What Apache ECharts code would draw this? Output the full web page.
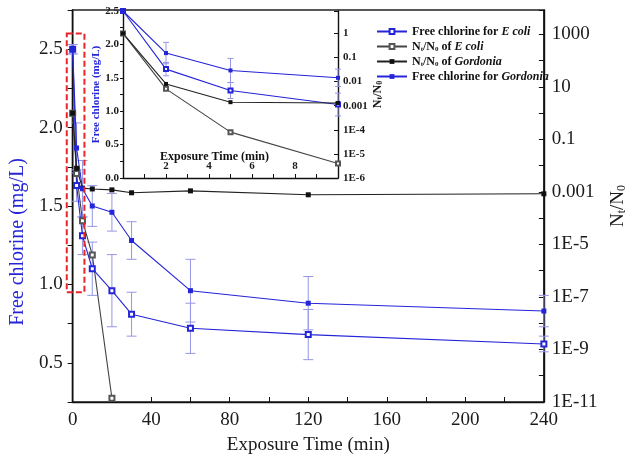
<!DOCTYPE html>
<html>
<head>
<meta charset="utf-8">
<script src="https://cdn.jsdelivr.net/npm/echarts@6/dist/echarts.min.js"></script>
<style>
  html, body { margin: 0; padding: 0; background: #fff; }
  #chart { width: 636px; height: 463px; }
</style>
</head>
<body>
<div id="chart"></div>
<script>
  // exposure time (min)
  const times = [0, 2, 5, 10, 20, 30, 60, 120, 240];
  // free chlorine (mg/L) with standard deviation
  const clGordonia = [2.50, 1.87, 1.61, 1.50, 1.46, 1.28, 0.96, 0.88, 0.83];
  const clGordoniaErr = [0.03, 0.16, 0.18, 0.13, 0.12, 0.12, 0.20, 0.17, 0.10];
  const clEcoli = [2.50, 1.63, 1.31, 1.10, 0.96, 0.81, 0.72, 0.68, 0.62];
  const clEcoliErr = [0.03, 0.10, 0.12, 0.17, 0.23, 0.14, 0.16, 0.16, 0.05];
  // Nt/N0
  const ratioGordonia = [1, 0.008, 0.0014, 0.0013, 0.0012, 0.00093, 0.0011, 0.00078, 0.00085];
  const ecoliTimes = [0, 2, 5, 10, 20];
  const ratioEcoli = [1, 0.005, 0.00008, 0.000004, 1.4e-11];
  // right axis tick labels (by decade)
  const mainRatioLabels = {3: '1000', 1: '10', '-1': '0.1', '-3': '0.001', '-5': '1E-5', '-7': '1E-7', '-9': '1E-9', '-11': '1E-11'};
  const insetRatioLabels = {0: '1', '-1': '0.1', '-2': '0.01', '-3': '0.001', '-4': '1E-4', '-5': '1E-5', '-6': '1E-6'};
  const insetMaxTime = 10;
  // dashed box marking the zoomed region (time, mg/L)
  const boxTime = [-3, 6];
  const boxChlorine = [0.95, 2.6];

  const BLUE = '#2424d8';
  const ERR = '#9696e6';
  const SERIF = 'Liberation Serif';
  const names = ['Free chlorine for E coli', 'Nt/N0 of E coli', 'Nt/N0 of Gordonia', 'Free chlorine for Gordonia'];

  const pairs = (xs, ys, f) => xs.map((t, i) => [t, f ? f(ys[i]) : ys[i]]);
  const clip = (arr) => arr.filter(p => p[0] <= insetMaxTime);
  const errData = (ys, es) => times.map((t, i) => [t, ys[i], es[i]]);

  function errBars(capHalf) {
    return function (params, api) {
      const t = api.value(0), v = api.value(1), e = api.value(2);
      const a = api.coord([t, v + e]);
      const b = api.coord([t, v - e]);
      const st = {stroke: ERR, lineWidth: 1};
      return {
        type: 'group',
        children: [
          {type: 'line', shape: {x1: a[0], y1: a[1], x2: b[0], y2: b[1]}, style: st},
          {type: 'line', shape: {x1: a[0] - capHalf, y1: a[1], x2: a[0] + capHalf, y2: a[1]}, style: st},
          {type: 'line', shape: {x1: b[0] - capHalf, y1: b[1], x2: b[0] + capHalf, y2: b[1]}, style: st}
        ]
      };
    };
  }

  function lines(xi, yCl, yRatio, size, inset) {
    const f = inset ? clip : (a) => a;
    return [
      {name: names[0], type: 'line', xAxisIndex: xi, yAxisIndex: yCl, data: f(pairs(times, clEcoli)),
        symbol: 'emptyRect', symbolSize: size, color: BLUE, lineStyle: {width: 1.1, color: BLUE}, z: 5},
      {name: names[1], type: 'line', xAxisIndex: xi, yAxisIndex: yRatio, data: f(pairs(ecoliTimes, ratioEcoli, Math.log10)),
        symbol: 'emptyRect', symbolSize: size, color: '#555', lineStyle: {width: 1.1, color: '#444'}, z: 5},
      {name: names[2], type: 'line', xAxisIndex: xi, yAxisIndex: yRatio, data: f(pairs(times, ratioGordonia, Math.log10)),
        symbol: 'rect', symbolSize: size, color: '#111', lineStyle: {width: 1.1, color: '#222'}, z: 5},
      {name: names[3], type: 'line', xAxisIndex: xi, yAxisIndex: yCl, data: f(pairs(times, clGordonia)),
        symbol: 'rect', symbolSize: size, color: BLUE, lineStyle: {width: 1.1, color: BLUE}, z: 5},
      {type: 'custom', xAxisIndex: xi, yAxisIndex: yCl, renderItem: errBars(inset ? 3 : 5),
        data: f(errData(clEcoli, clEcoliErr)), encode: {x: 0, y: 1}, z: 3, silent: true},
      {type: 'custom', xAxisIndex: xi, yAxisIndex: yCl, renderItem: errBars(inset ? 3 : 5),
        data: f(errData(clGordonia, clGordoniaErr)), encode: {x: 0, y: 1}, z: 3, silent: true}
    ];
  }

  const mainLabel = {fontFamily: SERIF, fontSize: 19, color: '#1a1a1a'};
  const insetLabel = {fontFamily: SERIF, fontSize: 11, fontWeight: 'bold', color: '#1a1a1a'};
  const axisLine = {show: true, onZero: false, lineStyle: {color: '#111', width: 1.4}};
  const sub = {fontSize: 12, verticalAlign: 'bottom', padding: [8, 0, 0, 0]};

  const option = {
    animation: false,
    backgroundColor: '#fff',
    grid: [
      {left: 69, right: 83, top: 10, bottom: 61, show: true, borderColor: '#222', borderWidth: 1.6},
      {left: 123, right: 298, top: 11, bottom: 285}
    ],
    legend: {
      left: 371, top: 20, orient: 'vertical', itemWidth: 30, itemHeight: 6, itemGap: 2,
      data: names,
      formatter: function (n) {
        if (n === names[0]) return '{b|Free chlorine for }{i|E coli}';
        if (n === names[1]) return '{b|N}{s|t}{b|/N}{s|0}{b| of }{i|E coli}';
        if (n === names[2]) return '{b|N}{s|t}{b|/N}{s|0}{b| of }{i|Gordonia}';
        return '{b|Free chlorine for }{i|Gordonia}';
      },
      textStyle: {
        fontFamily: SERIF, fontSize: 12, lineHeight: 13,
        rich: {
          b: {fontFamily: SERIF, fontSize: 12, fontWeight: 'bold', color: '#111'},
          i: {fontFamily: SERIF, fontSize: 12, fontWeight: 'bold', fontStyle: 'italic', color: '#111'},
          s: {fontFamily: SERIF, fontSize: 7, fontWeight: 'bold', color: '#111', verticalAlign: 'bottom', padding: [4, 0, 0, 0]}
        }
      }
    },
    xAxis: [
      {
        gridIndex: 0, type: 'value', min: 0, max: 240, interval: 20,
        name: 'Exposure Time (min)', nameLocation: 'middle', nameGap: 34,
        nameTextStyle: {fontFamily: SERIF, fontSize: 19, color: '#1a1a1a'},
        axisLine: axisLine, axisTick: {inside: true, length: 5, lineStyle: {color: '#111'}},
        axisLabel: Object.assign({margin: 9, formatter: v => (v % 40 === 0 ? String(v) : '')}, mainLabel),
        splitLine: {show: false}
      },
      {
        gridIndex: 1, type: 'value', position: 'bottom', min: 0, max: insetMaxTime, interval: 1,
        name: 'Exposure Time (min)', nameLocation: 'middle', nameGap: -27, nameMoveOverlap: false,
        nameTextStyle: {fontFamily: SERIF, fontSize: 12, fontWeight: 'bold', color: '#111', padding: [0, 32, 0, 0]},
        axisLine: axisLine,
        axisTick: {inside: true, length: 4, lineStyle: {color: '#111'}},
        axisLabel: Object.assign({inside: true, margin: 6, formatter: v => (v % 2 === 0 && v > 0 && v < 10 ? String(v) : '')}, insetLabel),
        splitLine: {show: false}
      }
    ],
    yAxis: [
      {
        gridIndex: 0, type: 'value', position: 'left', min: 0.25, max: 2.75, interval: 0.25,
        name: 'Free chlorine (mg/L)', nameLocation: 'middle', nameGap: 37, nameRotate: 90,
        nameTextStyle: {fontFamily: SERIF, fontSize: 20, color: BLUE, padding: [0, 72, 0, 0]},
        axisLine: axisLine, axisTick: {length: 5, lineStyle: {color: '#111'}},
        axisLabel: Object.assign({margin: 10, formatter: v => (Math.round(v * 100) % 50 === 0 ? v.toFixed(1) : '')}, mainLabel),
        splitLine: {show: false}
      },
      {
        gridIndex: 0, type: 'value', position: 'right', min: -11, max: 3.93, interval: 1,
        name: 'N{s|t}/N{s|0}', nameLocation: 'middle', nameGap: 58, nameRotate: 90,
        nameTextStyle: {fontFamily: SERIF, fontSize: 19, color: '#1a1a1a', rich: {s: sub}},
        axisLine: axisLine, axisTick: {inside: true, length: 5, lineStyle: {color: '#111'}},
        axisLabel: Object.assign({margin: 8, formatter: v => mainRatioLabels[v] || ''}, mainLabel),
        splitLine: {show: false}
      },
      {
        gridIndex: 1, type: 'value', position: 'left', min: 0, max: 2.5, interval: 0.25,
        name: 'Free chlorine (mg/L)', nameLocation: 'middle', nameGap: 21, nameRotate: 90,
        nameTextStyle: {fontFamily: SERIF, fontSize: 11, fontWeight: 'bold', color: BLUE},
        axisLine: axisLine, axisTick: {length: 3, lineStyle: {color: '#111'}},
        axisLabel: Object.assign({margin: 4, formatter: v => (Math.round(v * 100) % 50 === 0 ? v.toFixed(1) : '')}, insetLabel),
        splitLine: {show: false}
      },
      {
        gridIndex: 1, type: 'value', position: 'right', min: -6, max: 0.93, interval: 1,
        name: 'N{s|t}/N{s|0}', nameLocation: 'middle', nameGap: 27, nameRotate: 90,
        nameTextStyle: {fontFamily: SERIF, fontSize: 12, fontWeight: 'bold', color: '#1a1a1a',
          rich: {s: {fontSize: 8, fontWeight: 'bold', verticalAlign: 'bottom', padding: [5, 0, 0, 0]}}},
        axisLine: axisLine, axisTick: {inside: true, length: 4, lineStyle: {color: '#111'}},
        axisLabel: Object.assign({margin: 5, formatter: v => insetRatioLabels[v] || ''}, insetLabel),
        splitLine: {show: false}
      }
    ],
    series: lines(0, 0, 1, 5, false).concat(lines(1, 2, 3, 4, true))
  };

  const chart = echarts.init(document.getElementById('chart'));
  chart.setOption(option);

  // red dashed box around the early-time points
  const p1 = chart.convertToPixel({xAxisIndex: 0, yAxisIndex: 0}, [boxTime[0], boxChlorine[1]]);
  const p2 = chart.convertToPixel({xAxisIndex: 0, yAxisIndex: 0}, [boxTime[1], boxChlorine[0]]);
  chart.setOption({
    graphic: [{
      type: 'rect', z: 20, silent: true,
      shape: {x: p1[0], y: p1[1], width: p2[0] - p1[0], height: p2[1] - p1[1]},
      style: {fill: 'none', stroke: '#e8262a', lineWidth: 2, lineDash: [6, 3]}
    }]
  });
</script>
</body>
</html>
